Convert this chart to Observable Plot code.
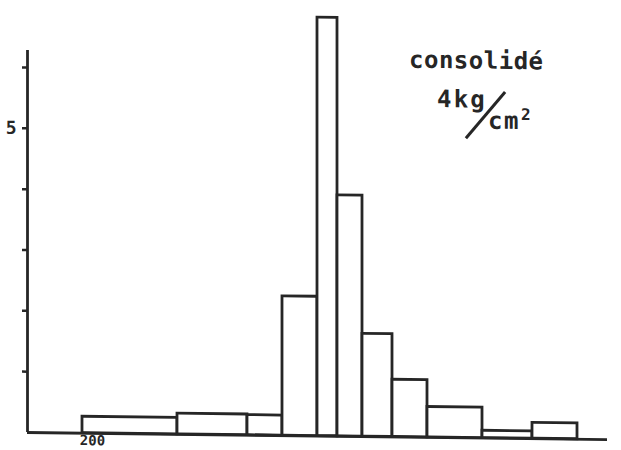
<!DOCTYPE html>
<html>
<head>
<meta charset="utf-8">
<script src="https://cdn.jsdelivr.net/npm/d3@7"></script>
<script src="https://cdn.jsdelivr.net/npm/@observablehq/plot@0.6"></script>
<style>
  html, body { margin: 0; padding: 0; background: #fff; }
  #figure {
    position: relative;
    width: 621px;
    height: 450px;
    overflow: hidden;
    transform: skewY(0.7deg);
    transform-origin: 27px 432px;
    color: #222;
  }
  #figure svg { display: block; }
  .note {
    position: absolute;
    font-family: "DejaVu Sans Mono", monospace;
    font-weight: bold;
    font-size: 24px;
    line-height: 1;
    color: #262626;
    white-space: nowrap;
  }
  .note sup {
    font-size: 16px;
    position: relative;
    top: -9px;
    vertical-align: baseline;
    margin-left: 1px;
  }
  .fraction-bar {
    position: absolute;
    width: 61px;
    height: 0;
    border-top: 3px solid #262626;
    transform: rotate(-50deg);
    transform-origin: center;
  }
</style>
</head>
<body>
<div id="figure"></div>
<script>
// Class boundaries (lower and upper edge of each class) and frequencies
const binStart = [190, 285, 355, 390, 425, 445, 470, 500, 535, 590, 640];
const binEnd   = [285, 355, 390, 425, 445, 470, 500, 535, 590, 640, 685];
const frequency = [0.27, 0.34, 0.33, 2.29, 6.88, 3.96, 1.69, 0.94, 0.50, 0.12, 0.26];

// Axis ticks and their labels
const yTicks = [1, 2, 3, 4, 5, 6];
const yTickLabels = ["", "", "", "", "5", ""];
const xTicks = [200];
const xTickLabels = ["200"];

const xDomain = [135, 715];
const yDomain = [0, 6.28];

const bins = binStart.map((x1, i) => ({x1, x2: binEnd[i], f: frequency[i]}));
const ink = "#262626";

const chart = Plot.plot({
  width: 621,
  height: 450,
  marginLeft: 27,
  marginRight: 14,
  marginTop: 50,
  marginBottom: 18,
  style: {fontFamily: "DejaVu Sans Mono, monospace", fontWeight: "bold", color: ink, background: "white"},
  x: {domain: xDomain, label: null},
  y: {domain: yDomain, label: null},
  marks: [
    Plot.rectY(bins, {x1: "x1", x2: "x2", y: "f", fill: "white", stroke: ink, strokeWidth: 2.8}),
    Plot.ruleX([xDomain[0]], {y1: 0, y2: yDomain[1], stroke: ink, strokeWidth: 2.8}),
    Plot.ruleY([0], {stroke: ink, strokeWidth: 2.8}),
    Plot.axisY({ticks: yTicks, tickSize: 5, tickPadding: 6, fontSize: 18, label: null,
      tickFormat: (d) => yTickLabels[yTicks.indexOf(d)], strokeWidth: 2.5}),
    Plot.axisX({ticks: xTicks, tickSize: 0, tickPadding: 2, fontSize: 14, label: null,
      tickFormat: (d) => xTickLabels[xTicks.indexOf(d)]})
  ]
});

const fig = document.getElementById("figure");
fig.appendChild(chart);

// Annotation: "consolidé 4kg/cm²"
const notes = [
  {html: "consolidé", left: 409, top: 43, spacing: 0.5},
  {html: "4kg", left: 437, top: 82, spacing: 2.2},
  {html: "cm<sup>2</sup>", left: 488, top: 103, spacing: 1.5}
];
for (const n of notes) {
  const el = document.createElement("div");
  el.className = "note";
  el.innerHTML = n.html;
  el.style.left = n.left + "px";
  el.style.top = n.top + "px";
  el.style.letterSpacing = n.spacing + "px";
  fig.appendChild(el);
}
const bar = document.createElement("div");
bar.className = "fraction-bar";
bar.style.left = "455px";
bar.style.top = "108px";
fig.appendChild(bar);
</script>
</body>
</html>
